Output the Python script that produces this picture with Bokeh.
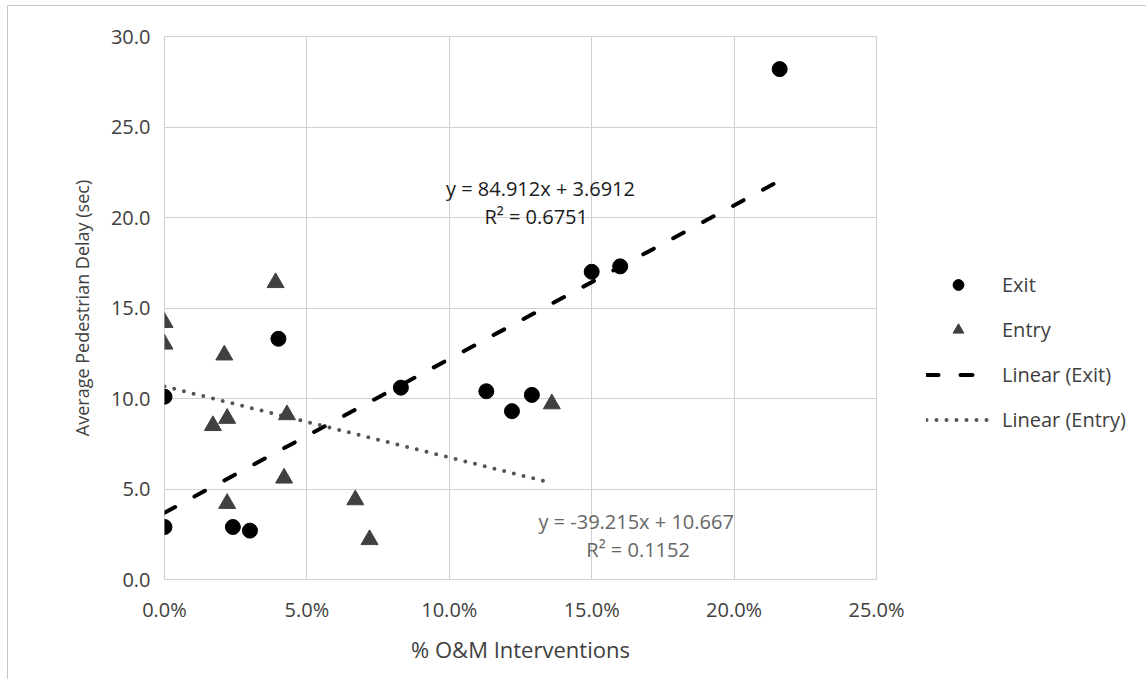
from bokeh.plotting import figure
from bokeh.models import (ColumnDataSource, FixedTicker, NumeralTickFormatter,
                          Legend, LegendItem, Label, Range1d)
from bokeh.embed import file_html
from bokeh.resources import INLINE

# ---------------- data ----------------
exit_x = [0.000, 0.000, 0.024, 0.030, 0.040, 0.083, 0.113, 0.122, 0.129, 0.150, 0.160, 0.216]
exit_y = [10.1, 2.9, 2.9, 2.7, 13.3, 10.6, 10.4, 9.3, 10.2, 17.0, 17.3, 28.2]

entry_x = [0.000, 0.000, 0.021, 0.039, 0.017, 0.022, 0.043, 0.042, 0.022, 0.067, 0.072, 0.136]
entry_y = [14.2, 13.0, 12.4, 16.4, 8.5, 8.9, 9.1, 5.6, 4.2, 4.4, 2.2, 9.7]

exit_slope, exit_intercept = 84.912, 3.6912
entry_slope, entry_intercept = -39.215, 10.667
exit_eq = "y = 84.912x + 3.6912"
exit_r2 = "R² = 0.6751"
entry_eq = "y = -39.215x + 10.667"
entry_r2 = "R² = 0.1152"

x_ticks = [0.0, 0.05, 0.10, 0.15, 0.20, 0.25]
y_ticks = [0, 5, 10, 15, 20, 25, 30]
x_min, x_max = 0.0, 0.25
y_min, y_max = 0, 30

FONT = "Open Sans"
TXT = "#404040"
GRID = "#d0d0d0"

# trendlines span each series' x range
ex_tx = [min(exit_x), max(exit_x)]
ex_ty = [exit_slope * v + exit_intercept for v in ex_tx]
en_tx = [min(entry_x), max(entry_x)]
en_ty = [entry_slope * v + entry_intercept for v in en_tx]

p = figure(frame_width=712, frame_height=543, output_backend="svg", toolbar_location=None,
           x_range=Range1d(x_min, x_max), y_range=Range1d(y_min, y_max),
           min_border_left=156, min_border_right=262, min_border_top=30, min_border_bottom=100)
p.styles = {"margin-left": "7px", "margin-top": "5px",
            "border-left": "1px solid #c8c8c8", "border-top": "1px solid #c8c8c8"}

p.outline_line_color = GRID
for g in (p.xgrid, p.ygrid):
    g.grid_line_color = GRID
    g.grid_line_width = 1
p.xaxis.ticker = FixedTicker(ticks=x_ticks)
p.yaxis.ticker = FixedTicker(ticks=y_ticks)
p.xgrid.ticker = FixedTicker(ticks=x_ticks)
p.ygrid.ticker = FixedTicker(ticks=y_ticks)
p.xaxis.formatter = NumeralTickFormatter(format="0.0%")
p.yaxis.formatter = NumeralTickFormatter(format="0.0")
for ax in (p.xaxis, p.yaxis):
    ax.axis_line_color = None
    ax.major_tick_line_color = None
    ax.minor_tick_line_color = None
    ax.major_label_text_font = FONT
    ax.major_label_text_font_size = "20px"
    ax.major_label_text_color = TXT
    ax.axis_label_text_font = FONT
    ax.axis_label_text_font_style = "normal"
    ax.axis_label_text_color = TXT
p.xaxis.axis_label_text_font_size = "22px"
p.yaxis.axis_label_text_font_size = "18px"
p.xaxis.major_label_standoff = 10
p.yaxis.major_label_standoff = 8
p.xaxis.axis_label = "% O&M Interventions"
p.yaxis.axis_label = "Average Pedestrian Delay (sec)"
p.xaxis.axis_label_standoff = 8
p.yaxis.axis_label_standoff = 14

src_exit = ColumnDataSource(dict(x=exit_x, y=exit_y))
src_entry = ColumnDataSource(dict(x=entry_x, y=entry_y))

r_ex_line = p.line(ex_tx, ex_ty, line_color="black", line_width=4,
                   line_dash="12 22", line_cap="round")
r_en_line = p.line(en_tx, en_ty, line_color="#555555", line_width=4,
                   line_dash="0 10", line_cap="round")
r_exit = p.scatter("x", "y", source=src_exit, marker="circle", size=15,
                   fill_color="black", line_color="black")
r_entry = p.scatter("x", "y", source=src_entry, marker="triangle", size=17,
                    fill_color="#404040", line_color="#404040")

def lab(x, y, text, color):
    p.add_layout(Label(x=x, y=y, text=text,
                       text_font=FONT, text_font_size="20px", text_color=color,
                       text_align="center", text_baseline="middle"))

lab(0.132, 21.6, exit_eq, "#1a1a1a")
lab(0.1305, 20.05, exit_r2, "#1a1a1a")
lab(0.1656, 3.2, entry_eq, "#666666")
lab(0.1663, 1.66, entry_r2, "#666666")

legend = Legend(items=[
    LegendItem(label="Exit", renderers=[r_exit]),
    LegendItem(label="Entry", renderers=[r_entry]),
    LegendItem(label="Linear (Exit)", renderers=[r_ex_line]),
    LegendItem(label="Linear (Entry)", renderers=[r_en_line]),
], location=(50, 146), border_line_color=None, background_fill_alpha=0,
    label_text_font=FONT, label_text_font_size="20px", label_text_color=TXT,
    glyph_width=64, glyph_height=27, spacing=18, label_standoff=12, padding=0, margin=0)
p.add_layout(legend, "right")

open("out.html", "w").write(file_html(p, INLINE))
